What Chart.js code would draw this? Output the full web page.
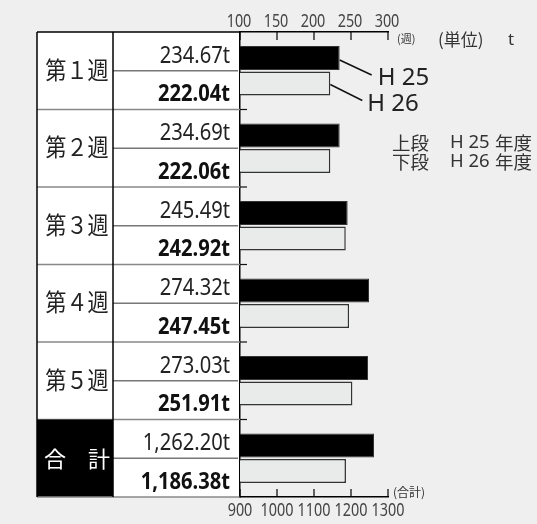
<!DOCTYPE html>
<html>
<head>
<meta charset="utf-8">
<script src="https://cdn.jsdelivr.net/npm/chart.js@4.4.1/dist/chart.umd.min.js"></script>
<style>
  html, body { margin: 0; padding: 0; background: #efefef; }
  #wrap { width: 537px; height: 524px; }
</style>
</head>
<body>
<div id="wrap"><canvas id="chart"></canvas></div>
<script>
// --- data ---
const categories = ['第１週', '第２週', '第３週', '第４週', '第５週', '合　計'];
const weekH25 = [234.67, 234.69, 245.49, 274.32, 273.03, null];
const weekH26 = [222.04, 222.06, 242.92, 247.45, 251.91, null];
const totalH25 = [null, null, null, null, null, 1262.20];
const totalH26 = [null, null, null, null, null, 1186.38];
const weekTicks = [100, 150, 200, 250, 300];
const totalTicks = [900, 1000, 1100, 1200, 1300];

const NUM = '"Noto Sans", sans-serif';
const JP = '"Noto Sans CJK JP", sans-serif';
const TABLE_LEFT = 37;
const TABLE_MID = 113;

function fmt(v) {
    return v.toLocaleString('en-US', { minimumFractionDigits: 2, maximumFractionDigits: 2 }) + 't';
}

// text with horizontal squeeze (the original uses a condensed face)
function txt(ctx, s, x, y, font, opts) {
    const o = Object.assign({ align: 'left', base: 'alphabetic', sx: 1, color: '#222' }, opts);
    ctx.save();
    ctx.translate(x, y);
    ctx.scale(o.sx, 1);
    ctx.font = font;
    ctx.textAlign = o.align;
    ctx.textBaseline = o.base;
    ctx.fillStyle = o.color;
    ctx.fillText(s, 0, 0);
    ctx.restore();
}

function line(ctx, x1, y1, x2, y2, color, w) {
    ctx.beginPath();
    ctx.moveTo(x1, y1);
    ctx.lineTo(x2, y2);
    ctx.strokeStyle = color;
    ctx.lineWidth = w;
    ctx.stroke();
}

const tablePlugin = {
    id: 'table',
    beforeDraw(chart) {
        const { ctx, chartArea: a } = chart;
        ctx.save();
        ctx.fillStyle = '#efefef';
        ctx.fillRect(0, 0, chart.width, chart.height);
        ctx.fillStyle = '#fff';
        ctx.fillRect(TABLE_LEFT, a.top, a.left - TABLE_LEFT, a.bottom - a.top);
        ctx.restore();
    },
    afterDraw(chart) {
        const { ctx, chartArea: a, scales } = chart;
        const step = (a.bottom - a.top) / categories.length;
        ctx.save();

        categories.forEach((cat, i) => {
            const mid = scales.y.getPixelForValue(i);
            const top = mid - step / 2;
            const bot = mid + step / 2;
            const isTotal = i === categories.length - 1;

            if (isTotal) {
                ctx.fillStyle = '#000';
                ctx.fillRect(TABLE_LEFT, top, TABLE_MID - TABLE_LEFT, step);
                txt(ctx, '合', 55, mid, '22px ' + JP, { align: 'center', base: 'middle', color: '#fff' });
                txt(ctx, '計', 99, mid, '22px ' + JP, { align: 'center', base: 'middle', color: '#fff' });
            } else {
                txt(ctx, cat, 77, mid - 1, '24px ' + JP, { align: 'center', base: 'middle', sx: 0.88 });
            }

            const upper = weekH25[i] != null ? weekH25[i] : totalH25[i];
            const lower = weekH26[i] != null ? weekH26[i] : totalH26[i];
            txt(ctx, fmt(upper), a.left - 10, top + 30.5, '24px ' + NUM, { align: 'right', sx: 0.84 });
            txt(ctx, fmt(lower), a.left - 10, mid + 30.5, 'bold 24px ' + NUM, { align: 'right', sx: 0.84, color: '#111' });

            // sub-row rule
            line(ctx, TABLE_MID, mid, a.left - 2, mid, '#777', 1.5);
            // block rule
            if (i < categories.length - 1) {
                line(ctx, TABLE_LEFT, bot, a.left, bot, '#888', 1.5);
                line(ctx, a.left, bot, a.left + 7, bot, '#111', 1.2);
            }
        });

        // table frame
        line(ctx, TABLE_LEFT, a.top, a.left, a.top, '#000', 1.5);
        line(ctx, TABLE_LEFT, a.bottom, a.left, a.bottom, '#888', 1.5);
        line(ctx, TABLE_LEFT, a.top, TABLE_LEFT, a.bottom, '#000', 1.5);
        line(ctx, TABLE_MID, a.top, TABLE_MID, a.bottom, '#000', 1.5);

        // inward ticks + labels
        scales.x.ticks.forEach(t => {
            const px = scales.x.getPixelForValue(t.value);
            line(ctx, px, a.top, px, a.top + 8, '#000', 1.2);
            txt(ctx, String(t.value), px - 1, 27, '18px ' + NUM, { align: 'center', sx: 0.8, color: '#444' });
        });
        scales.x2.ticks.forEach(t => {
            const px = scales.x2.getPixelForValue(t.value);
            line(ctx, px, a.bottom, px, a.bottom - 8, '#000', 1.2);
            txt(ctx, String(t.value), px, 516, '18px ' + NUM, { align: 'center', sx: 0.8, color: '#444' });
        });

        txt(ctx, '(週)', a.right + 9, 39, '11px ' + JP, { base: 'middle', color: '#333' });
        txt(ctx, '(合計)', a.right + 5, 492, '12px ' + JP, { base: 'middle', color: '#333' });
        txt(ctx, '(単位)', a.right + 50, 40, '17px ' + JP, { base: 'middle', color: '#333' });
        txt(ctx, 't', a.right + 120, 40, '17px ' + NUM, { base: 'middle', color: '#333' });

        // leader lines to the first week's bars
        const b25 = chart.getDatasetMeta(0).data[0];
        const b26 = chart.getDatasetMeta(1).data[0];
        line(ctx, b25.x, b25.y + 2, b25.x + 32, b25.y + 17, '#111', 1.5);
        line(ctx, b26.x, b26.y + 1, b26.x + 32, b26.y + 17, '#111', 1.5);
        txt(ctx, 'H 25', b25.x + 38, b25.y + 27, '24px ' + NUM, { color: '#222' });
        txt(ctx, 'H 26', b26.x + 37, b26.y + 27, '24px ' + NUM, { color: '#222' });

        // key: upper row = H25, lower row = H26
        [['上段', 'H 25', 143], ['下段', 'H 26', 162]].forEach(([pos, yr, ly]) => {
            txt(ctx, pos, a.right + 4, ly, '18.5px ' + JP, { base: 'middle', color: '#333' });
            txt(ctx, yr, a.right + 62, ly, '18.5px ' + NUM, { base: 'middle', color: '#333' });
            txt(ctx, '年度', a.right + 107, ly, '18.5px ' + JP, { base: 'middle', color: '#333' });
        });

        ctx.restore();
    }
};

new Chart(document.getElementById('chart'), {
    type: 'bar',
    data: {
        labels: categories,
        datasets: [
            { label: 'H25', data: weekH25, xAxisID: 'x', backgroundColor: '#000', borderColor: '#333', borderWidth: 1 },
            { label: 'H26', data: weekH26, xAxisID: 'x', backgroundColor: '#e9ebea', borderColor: '#333', borderWidth: 1.5 },
            { label: 'H25 total', data: totalH25, xAxisID: 'x2', backgroundColor: '#000', borderColor: '#333', borderWidth: 1 },
            { label: 'H26 total', data: totalH26, xAxisID: 'x2', backgroundColor: '#e9ebea', borderColor: '#333', borderWidth: 1.5 }
        ]
    },
    options: {
        indexAxis: 'y',
        responsive: true,
        maintainAspectRatio: false,
        animation: false,
        skipNull: true,
        categoryPercentage: 0.66,
        barPercentage: 0.94,
        layout: { padding: { left: 0, right: 149, top: 0, bottom: 0 } },
        plugins: {
            legend: { display: false },
            tooltip: { enabled: false }
        },
        scales: {
            x: {
                position: 'top',
                min: weekTicks[0],
                max: weekTicks[weekTicks.length - 1],
                afterBuildTicks: s => { s.ticks = weekTicks.map(v => ({ value: v })); },
                afterFit: s => { s.height = 32; },
                ticks: { display: false },
                grid: { display: false },
                border: { display: true, color: '#000', width: 1.5 }
            },
            x2: {
                position: 'bottom',
                min: totalTicks[0],
                max: totalTicks[totalTicks.length - 1],
                afterBuildTicks: s => { s.ticks = totalTicks.map(v => ({ value: v })); },
                afterFit: s => { s.height = 27; },
                ticks: { display: false },
                grid: { display: false },
                border: { display: true, color: '#000', width: 1.5 }
            },
            y: {
                position: 'left',
                afterFit: s => { s.width = 240; },
                ticks: { display: false },
                grid: { display: false },
                border: { display: true, color: '#000', width: 1.5 }
            }
        }
    },
    plugins: [tablePlugin]
});
</script>
</body>
</html>
